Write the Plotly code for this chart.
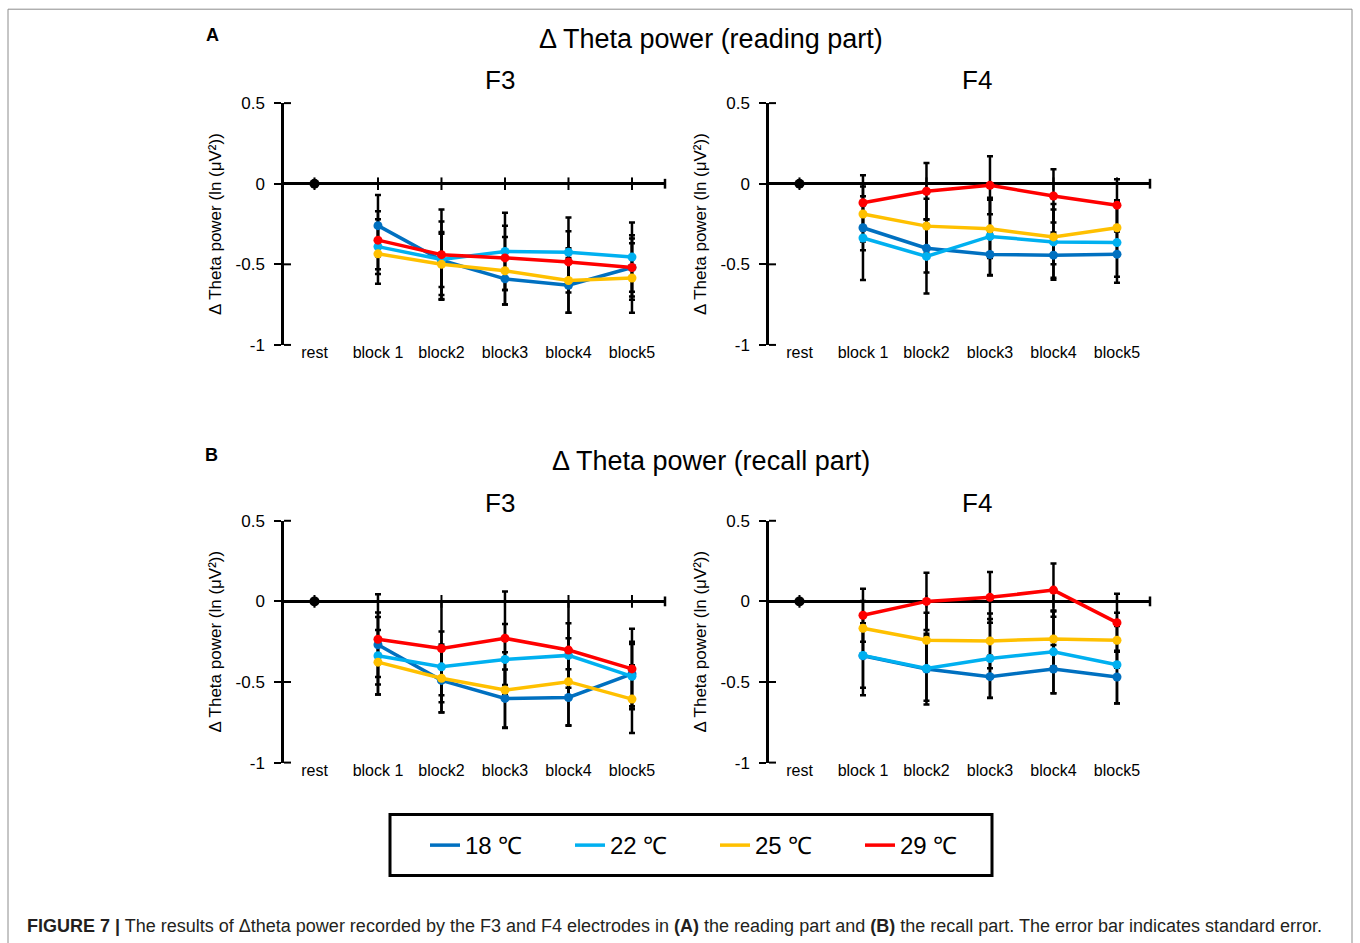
import plotly.graph_objects as go

# ---------------- data ----------------
categories = ["rest", "block 1", "block2", "block3", "block4", "block5"]
blocks = categories[1:]
rest_value = [0]
y_tick_vals = [0.5, 0, -0.5, -1]
y_tick_text = ["0.5", "0", "-0.5", "-1"]
series_names = ["18 ℃", "22 ℃", "25 ℃", "29 ℃"]
series_colors = ["#0070C0", "#00B0F0", "#FFC000", "#FF0000"]

# (A) reading part, F3 : means and standard errors
read_f3_18 = [-0.26, -0.475, -0.59, -0.63, -0.52]
read_f3_22 = [-0.39, -0.47, -0.42, -0.425, -0.455]
read_f3_25 = [-0.435, -0.50, -0.54, -0.60, -0.585]
read_f3_29 = [-0.35, -0.44, -0.46, -0.485, -0.52]
read_f3_18_se = [0.19, 0.24, 0.16, 0.17, 0.18]
read_f3_22_se = [0.17, 0.17, 0.24, 0.215, 0.215]
read_f3_25_se = [0.185, 0.19, 0.21, 0.20, 0.215]
read_f3_29_se = [0.18, 0.28, 0.20, 0.19, 0.20]

# (A) reading part, F4
read_f4_18 = [-0.273, -0.40, -0.439, -0.443, -0.437]
read_f4_22 = [-0.337, -0.451, -0.327, -0.361, -0.365]
read_f4_25 = [-0.188, -0.263, -0.28, -0.33, -0.273]
read_f4_29 = [-0.118, -0.047, -0.01, -0.076, -0.133]
read_f4_18_se = [0.14, 0.15, 0.13, 0.14, 0.14]
read_f4_22_se = [0.26, 0.23, 0.24, 0.235, 0.25]
read_f4_25_se = [0.17, 0.17, 0.18, 0.17, 0.17]
read_f4_29_se = [0.17, 0.175, 0.18, 0.165, 0.16]

# (B) recall part, F3
recall_f3_18 = [-0.269, -0.49, -0.602, -0.596, -0.45]
recall_f3_22 = [-0.3375, -0.406, -0.36, -0.335, -0.465]
recall_f3_25 = [-0.377, -0.477, -0.55, -0.498, -0.606]
recall_f3_29 = [-0.235, -0.292, -0.229, -0.302, -0.419]
recall_f3_18_se = [0.2, 0.2, 0.18, 0.175, 0.2]
recall_f3_22_se = [0.24, 0.22, 0.22, 0.2, 0.2]
recall_f3_25_se = [0.2, 0.21, 0.235, 0.27, 0.21]
recall_f3_29_se = [0.28, 0.29, 0.29, 0.30, 0.25]

# (B) recall part, F4
recall_f4_18 = [-0.337, -0.42, -0.467, -0.42, -0.469]
recall_f4_22 = [-0.335, -0.416, -0.354, -0.313, -0.393]
recall_f4_25 = [-0.167, -0.241, -0.245, -0.233, -0.241]
recall_f4_29 = [-0.086, 0.0, 0.025, 0.07, -0.132]
recall_f4_18_se = [0.245, 0.22, 0.13, 0.15, 0.163]
recall_f4_22_se = [0.2, 0.2, 0.245, 0.257, 0.24]
recall_f4_25_se = [0.17, 0.17, 0.17, 0.17, 0.17]
recall_f4_29_se = [0.165, 0.177, 0.158, 0.165, 0.18]

panels = [
    ([read_f3_18, read_f3_22, read_f3_25, read_f3_29],
     [read_f3_18_se, read_f3_22_se, read_f3_25_se, read_f3_29_se]),
    ([read_f4_18, read_f4_22, read_f4_25, read_f4_29],
     [read_f4_18_se, read_f4_22_se, read_f4_25_se, read_f4_29_se]),
    ([recall_f3_18, recall_f3_22, recall_f3_25, recall_f3_29],
     [recall_f3_18_se, recall_f3_22_se, recall_f3_25_se, recall_f3_29_se]),
    ([recall_f4_18, recall_f4_22, recall_f4_25, recall_f4_29],
     [recall_f4_18_se, recall_f4_22_se, recall_f4_25_se, recall_f4_29_se]),
]

# ---------------- layout geometry (pixels) ----------------
W, H = 1360, 960
# target positions below are in screen pixels; the photographed page shows
# the figure offset by ~8.8px and scaled by ~0.981 vertically
V_OFF, V_SCALE = 8.8, 0.981
def px(x):
    return x / W
def fig_y(y):
    return (y - V_OFF) / V_SCALE
def py(y):
    return 1 - fig_y(y) / H

x_doms = [(284, 665), (769, 1150), (284, 665), (769, 1150)]
y_doms = [(103, 345), (103, 345), (521, 763), (521, 763)]
Y_RANGE = [-1, 0.5]
X_RANGE = [-0.48, 5.52]
FONT = "Liberation Sans, Arial, sans-serif"

fig = go.Figure()
layout = dict(
    width=W, height=H,
    margin=dict(l=0, r=0, t=0, b=0),
    paper_bgcolor="white", plot_bgcolor="white",
    font=dict(family=FONT, color="black"),
    showlegend=True,
    hovermode=False,
)
shapes = []

for i, (means, ses) in enumerate(panels):
    n = "" if i == 0 else str(i + 1)
    xa, ya = "x" + n, "y" + n
    (x0, x1), (y0, y1) = x_doms[i], y_doms[i]
    layout["xaxis" + n] = dict(
        domain=[px(x0), px(x1)], anchor=ya, type="category",
        categoryorder="array", categoryarray=categories,
        range=X_RANGE, showline=False, ticks="", showgrid=False,
        zeroline=False, tickfont=dict(size=16, family=FONT, color="black"),
        ticklabelstandoff=-4,
        fixedrange=True,
    )
    layout["yaxis" + n] = dict(
        domain=[py(y1), py(y0)], anchor=xa, range=Y_RANGE,
        showline=True, linecolor="black", linewidth=2.5,
        ticks="outside", ticklen=7, tickwidth=2, tickcolor="black",
        zeroline=True, zerolinecolor="black", zerolinewidth=2.5,
        showgrid=False, tickvals=y_tick_vals, ticktext=y_tick_text,
        tickfont=dict(size=17, family=FONT, color="black"),
        ticklabelstandoff=6,
        title=dict(text="Δ Theta power (ln (μV²))", standoff=10,
                   font=dict(size=17, family=FONT, color="black")),
        fixedrange=True,
    )
    dom_w = x1 - x0
    dom_h = fig_y(y1) - fig_y(y0)
    # inner half of the crossing y-axis ticks
    for v in y_tick_vals:
        yd = (v - Y_RANGE[0]) / (Y_RANGE[1] - Y_RANGE[0])
        shapes.append(dict(type="line", xref=xa + " domain", yref=ya + " domain",
                           x0=0, x1=7 / dom_w, y0=yd, y1=yd,
                           line=dict(color="black", width=2)))
    # end tick of the horizontal zero axis
    yz = (0 - Y_RANGE[0]) / (Y_RANGE[1] - Y_RANGE[0])
    shapes.append(dict(type="line", xref=xa + " domain", yref=ya + " domain",
                       x0=1, x1=1, y0=yz - 5 / dom_h, y1=yz + 5 / dom_h,
                       line=dict(color="black", width=2.5)))

    # category tick marks on the zero line
    fig.add_trace(go.Scatter(
        x=categories, y=[0] * len(categories), xaxis=xa, yaxis=ya,
        mode="markers", showlegend=False, hoverinfo="skip",
        marker=dict(symbol="line-ns", size=9, line=dict(color="black", width=2)),
    ))
    # error bars (drawn beneath all lines)
    for k in range(4):
        fig.add_trace(go.Scatter(
            x=blocks, y=means[k], xaxis=xa, yaxis=ya, mode="markers",
            marker=dict(size=2, color="black", opacity=0),
            error_y=dict(type="data", array=ses[k], visible=True,
                         color="black", thickness=2.5, width=3),
            showlegend=False, hoverinfo="skip",
        ))
    # rest point
    fig.add_trace(go.Scatter(
        x=categories[:1], y=rest_value, xaxis=xa, yaxis=ya, mode="markers",
        marker=dict(size=10, color="black"), showlegend=False, hoverinfo="skip",
    ))
    # lines and markers
    for k in range(4):
        fig.add_trace(go.Scatter(
            x=blocks, y=means[k], xaxis=xa, yaxis=ya, mode="lines",
            line=dict(color=series_colors[k], width=3.5),
            name=series_names[k], legendgroup=series_names[k],
            showlegend=(i == 0),
        ))
        fig.add_trace(go.Scatter(
            x=blocks, y=means[k], xaxis=xa, yaxis=ya, mode="markers",
            marker=dict(color=series_colors[k], size=9),
            name=series_names[k], legendgroup=series_names[k],
            showlegend=False,
        ))

# legend box and figure frame
shapes.append(dict(type="rect", xref="paper", yref="paper",
                   x0=px(390), x1=px(992), y0=py(876), y1=py(815),
                   line=dict(color="black", width=3)))
shapes.append(dict(type="rect", xref="paper", yref="paper",
                   x0=px(8), x1=px(1352), y0=py(990), y1=py(9),
                   line=dict(color="#8c8c8c", width=1)))
layout["shapes"] = shapes

layout["legend"] = dict(
    orientation="h", x=px(715), xanchor="center", y=py(846), yanchor="middle",
    font=dict(size=24, family=FONT, color="black"),
    bgcolor="rgba(0,0,0,0)", borderwidth=0,
    entrywidth=100, entrywidthmode="pixels",
)

def ann(text, x, y, size, bold=False, xanchor="center", color="black"):
    return dict(text=("<b>%s</b>" % text) if bold else text,
                x=px(x), y=py(y), xref="paper", yref="paper",
                xanchor=xanchor, yanchor="middle", showarrow=False,
                font=dict(size=size, family=FONT, color=color))

layout["annotations"] = [
    ann("A", 212, 35, 18, bold=True),
    ann("Δ Theta power (reading part)", 711, 39, 27),
    ann("F3", 500, 80, 26),
    ann("F4", 977, 80, 26),
    ann("B", 211, 455, 18, bold=True),
    ann("Δ Theta power (recall part)", 711, 461, 27),
    ann("F3", 500, 503, 26),
    ann("F4", 977, 503, 26),
    ann("<b>FIGURE 7 |</b> The results of Δtheta power recorded by the F3 and F4 "
        "electrodes in <b>(A)</b> the reading part and <b>(B)</b> the recall part. "
        "The error bar indicates standard error.",
        25, 927, 18, xanchor="left", color="#231F20"),
]

fig.update_layout(**layout)
post_js = (
    "document.documentElement.style.margin='0';"
    "document.documentElement.style.padding='0';"
    "document.documentElement.style.overflow='hidden';"
    "document.body.style.margin='0';"
    "document.body.style.padding='0';"
    "document.body.style.overflow='hidden';"
)
fig.write_html("out.html", config={"displayModeBar": False}, post_script=post_js)
